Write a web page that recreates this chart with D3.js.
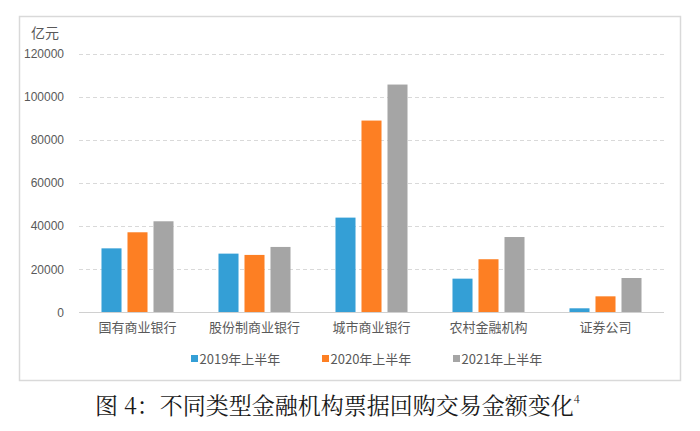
<!DOCTYPE html>
<html><head><meta charset="utf-8">
<script src="https://cdn.jsdelivr.net/npm/d3@7"></script>
<style>body{margin:0;background:#fff}svg{display:block}</style>
</head><body>
<script>
const categories = ["国有商业银行","股份制商业银行","城市商业银行","农村金融机构","证券公司"];
const series = ["2019年上半年","2020年上半年","2021年上半年"];
const v2019 = [29700, 27250, 43950, 15650, 1900];
const v2020 = [37150, 26650, 88950, 24650, 7450];
const v2021 = [42250, 30350, 105650, 34950, 15950];
const yTicks = [0,20000,40000,60000,80000,100000,120000];
const colors = ["#349fd6","#fd7f23","#a5a5a5"];
const values = [v2019, v2020, v2021];

const W=700,H=431;
const svg=d3.select("body").append("svg").attr("width",W).attr("height",H);
const font="'Liberation Sans','Noto Sans CJK SC',sans-serif";
const cjk="'Noto Sans CJK SC',sans-serif";

svg.append("rect").attr("x",19.5).attr("y",16.5).attr("width",661).attr("height",364)
  .attr("fill","#fff").attr("stroke","#d9d9d9").attr("stroke-width",1.5);

const x0=d3.scaleBand().domain(categories).range([79,664]);
const x1=d3.scaleBand().domain(series).range([-39,39]).paddingInner(0.23).paddingOuter(0.115);
const y=d3.scaleLinear().domain([0,120000]).range([312.4,53.6]);

// gridlines
svg.append("g").selectAll("line").data(yTicks.filter(d=>d>0)).join("line")
  .attr("x1",79).attr("x2",664).attr("y1",d=>Math.round(y(d))+0.5).attr("y2",d=>Math.round(y(d))+0.5)
  .attr("stroke","#d9d9d9").attr("stroke-width",1).attr("stroke-dasharray","4,3");

const yAxis=d3.axisLeft(y).tickValues(yTicks).tickSize(0).tickPadding(0).tickFormat(d3.format("d"));
const ga=svg.append("g").attr("transform","translate(64,0)").call(yAxis);
ga.select(".domain").remove();
ga.selectAll("text").attr("font-family",font).attr("font-size",12).attr("fill","#595959");

// bars
series.forEach((s,si)=>{
  svg.append("g").selectAll("rect").data(categories).join("rect")
    .attr("x",c=>x0(c)+x0.bandwidth()/2+x1(s))
    .attr("width",x1.bandwidth())
    .attr("y",(c,i)=>y(values[si][i]))
    .attr("height",(c,i)=>y(0)-y(values[si][i]))
    .attr("fill",colors[si]);
});

// baseline
svg.append("line").attr("x1",79).attr("x2",664).attr("y1",312.5).attr("y2",312.5)
  .attr("stroke","#d0d0d0").attr("stroke-width",1.2);

// x axis labels
const xAxis=d3.axisBottom(x0).tickSize(0).tickPadding(0);
const gx=svg.append("g").attr("transform","translate(0,322)").call(xAxis);
gx.select(".domain").remove();
gx.selectAll("text").attr("font-family",cjk).attr("font-size",13).attr("fill","#595959").attr("dy","0.75em");

// unit
svg.append("text").attr("x",31).attr("y",38).text("亿元")
  .attr("font-family",cjk).attr("font-size",14).attr("fill","#595959");

// legend
const legX=[191,322,453];
series.forEach((s,i)=>{
  const g=svg.append("g").attr("transform",`translate(${legX[i]},359)`);
  g.append("rect").attr("x",0).attr("y",-4).attr("width",7).attr("height",7).attr("fill",colors[i]);
  g.append("text").attr("x",8.5).attr("y",0).attr("dy","0.35em").text(s)
    .attr("font-family",cjk).attr("font-size",13).attr("fill","#595959");
});

// title
const t=svg.append("text").attr("x",95).attr("y",414)
  .attr("font-family","'Noto Serif CJK SC','Noto Sans CJK SC',serif").attr("font-size",23).attr("fill","#1a1a1a");
t.append("tspan").text("图 4：不同类型金融机构票据回购交易金额变化");
t.append("tspan").attr("font-size",11).attr("dy","-11").text("4");
</script>
</body></html>
